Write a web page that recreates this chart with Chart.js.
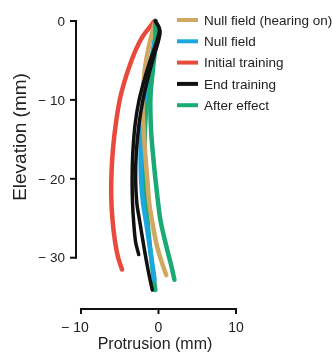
<!DOCTYPE html>
<html>
<head>
<meta charset="utf-8">
<script src="https://cdn.jsdelivr.net/npm/chart.js@4.4.1/dist/chart.umd.min.js"></script>
<style>
  html,body{margin:0;padding:0;background:#fff;}
  #wrap{position:relative;width:333px;height:354px;}
</style>
</head>
<body>
<div id="wrap"><canvas id="c"></canvas></div>
<script>
// ── data (protrusion x, elevation y, mm) ──
const LABELS = ['Null field (hearing on)', 'Null field', 'Initial training', 'End training', 'After effect'];
const COLORS = ['#CFA962', '#1BA8E0', '#E84B3D', '#111111', '#1AAA74'];

const xTicks = [-10, 0, 10];
const yTicks = [0, -10, -20, -30];

const nullHearing  = [[-0.4,0],[-1.2,-3],[-1.75,-6],[-2.0,-9],[-2.05,-11],[-1.9,-14],[-1.7,-17],[-1.45,-20],[-1.2,-23],[-0.8,-25.5],[-0.2,-28.5],[0.4,-30.5],[1.0,-32.2]];
const nullField    = [[-0.4,0],[-0.6,-3],[-1.2,-6],[-1.8,-10],[-2.2,-13],[-2.3,-16.5],[-2.25,-20],[-2.0,-23],[-1.6,-25.5],[-1.15,-28.5],[-0.8,-30.8],[-0.5,-32.8]];
const initialTrain = [[-0.5,0],[-2.0,-1.9],[-2.9,-3.6],[-3.7,-5.6],[-4.4,-7.7],[-5.0,-10],[-5.5,-13],[-5.85,-16],[-6.05,-19],[-6.1,-22],[-5.95,-25],[-5.6,-28],[-5.2,-30],[-4.7,-31.5]];
const endTrain1    = [[-0.4,0],[0.1,-1],[-0.2,-2.5],[-0.9,-4.5],[-1.7,-7],[-2.5,-10],[-3.0,-13],[-3.3,-16.5],[-3.4,-20],[-3.35,-23],[-3.2,-25.5],[-2.95,-28],[-2.55,-29.6]];
const endTrain2    = [[-0.4,0],[0.2,-1.2],[0.0,-2.5],[-0.6,-4.5],[-1.3,-7],[-2.0,-10],[-2.5,-13],[-2.85,-16.5],[-2.95,-20],[-2.8,-23],[-2.4,-25.5],[-1.9,-28.5],[-1.35,-31.5],[-0.8,-34.1]];
const afterEffect1 = [[-0.4,0],[-0.4,-3],[-0.7,-6],[-1.0,-9],[-1.05,-11],[-0.95,-14],[-0.7,-17],[-0.4,-20],[-0.05,-23],[0.3,-25.5],[1.0,-28.5],[1.6,-30.8],[2.06,-32.8]];
const afterEffect2 = [[-0.4,0],[-0.5,-3],[-1.0,-6],[-1.5,-10],[-1.75,-14],[-1.8,-18],[-1.7,-21],[-1.45,-25],[-1.05,-29],[-0.7,-32],[-0.4,-34.1]];

// first dataset is drawn on top
const TRACES = [
  [endTrain1, 3], [endTrain2, 3],
  [afterEffect1, 4],
  [nullHearing, 0],
  [nullField, 1],
  [afterEffect2, 4],
  [initialTrain, 2]
];

const FONT = '"Liberation Sans", Arial, Helvetica, sans-serif';
const TXT = '#222';

function fmt(v){ return v < 0 ? '\u2212 ' + Math.abs(v) : String(v); }

// range-frame axes, titles and legend
const frame = {
  id: 'frame',
  afterDraw(chart) {
    const { ctx, chartArea: a, scales: { x, y } } = chart;
    ctx.save();
    ctx.strokeStyle = '#111';
    ctx.fillStyle = TXT;
    ctx.lineWidth = 2;

    // y axis
    const yx = a.left + 1;
    ctx.beginPath();
    ctx.moveTo(yx, y.getPixelForValue(yTicks[0]) - 1);
    ctx.lineTo(yx, y.getPixelForValue(yTicks[yTicks.length-1]) + 1);
    ctx.stroke();
    ctx.font = '13.5px ' + FONT;
    ctx.textAlign = 'right';
    ctx.textBaseline = 'middle';
    yTicks.forEach(v => {
      const py = y.getPixelForValue(v);
      ctx.beginPath(); ctx.moveTo(yx - 6, py); ctx.lineTo(yx, py); ctx.stroke();
      ctx.fillText(fmt(v), yx - 11, py + 1);
    });

    // x axis
    const xy = a.bottom;
    ctx.beginPath();
    ctx.moveTo(x.getPixelForValue(xTicks[0]) - 1, xy);
    ctx.lineTo(x.getPixelForValue(xTicks[xTicks.length-1]) + 1, xy);
    ctx.stroke();
    ctx.font = '14px ' + FONT;
    ctx.textAlign = 'right';
    xTicks.forEach(v => {
      const px = x.getPixelForValue(v);
      ctx.beginPath(); ctx.moveTo(px, xy - 1); ctx.lineTo(px, xy + 5); ctx.stroke();
      const w = ctx.measureText(String(Math.abs(v))).width;
      ctx.fillText(fmt(v), px + w / 2, xy + 19);
    });

    // titles
    ctx.textAlign = 'center';
    ctx.font = '16px ' + FONT;
    ctx.fillText('Protrusion (mm)', 155, 345);
    ctx.save();
    ctx.translate(21, 137);
    ctx.rotate(-Math.PI / 2);
    ctx.font = '19px ' + FONT;
    ctx.fillText('Elevation (mm)', 0, 0);
    ctx.restore();

    // legend
    ctx.font = '13.5px ' + FONT;
    ctx.textAlign = 'left';
    ctx.lineWidth = 4;
    LABELS.forEach((lab, i) => {
      const ly = 20 + i * 21.3;
      ctx.strokeStyle = COLORS[i];
      ctx.beginPath(); ctx.moveTo(177, ly); ctx.lineTo(198, ly); ctx.stroke();
      ctx.fillStyle = TXT;
      ctx.fillText(lab, 204, ly + 1);
    });
    ctx.restore();
  }
};

new Chart(document.getElementById('c'), {
  type: 'scatter',
  data: {
    datasets: TRACES.map(([pts, k]) => ({
      label: LABELS[k],
      data: pts.map(p => ({ x: p[0], y: p[1] })),
      showLine: true,
      borderColor: COLORS[k],
      backgroundColor: COLORS[k],
      borderWidth: k === 3 ? 3.5 : 4.5,
      borderCapStyle: 'round',
      borderJoinStyle: 'round',
      pointRadius: 0,
      tension: 0.35,
      clip: false
    }))
  },
  options: {
    responsive: true,
    maintainAspectRatio: false,
    animation: false,
    layout: { padding: { left: 75, top: 21, right: 97, bottom: 45 } },
    plugins: { legend: { display: false }, tooltip: { enabled: false } },
    scales: {
      x: { type: 'linear', min: -10.77, max: 10, display: false },
      y: { type: 'linear', min: -36.5, max: 0, display: false }
    }
  },
  plugins: [frame]
});
</script>
</body>
</html>
